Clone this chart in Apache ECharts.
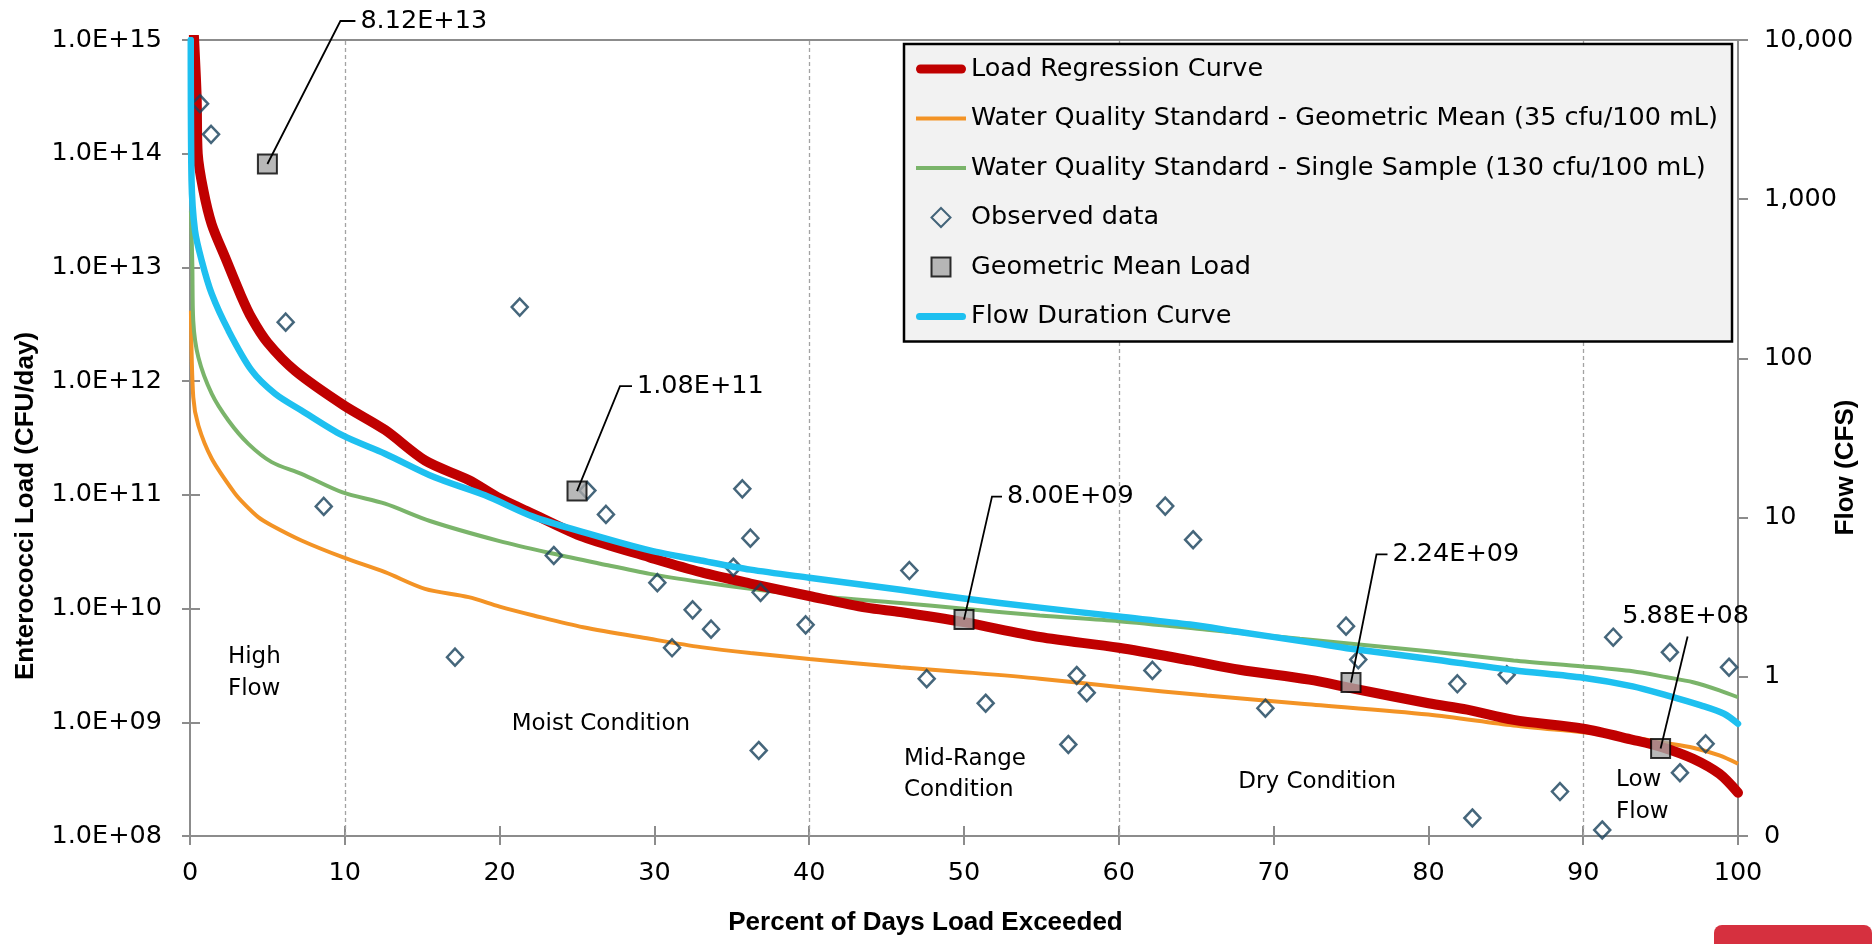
<!DOCTYPE html>
<html>
<head>
<meta charset="utf-8">
<script src="https://cdn.jsdelivr.net/npm/echarts@6/dist/echarts.min.js"></script>
<style>
html,body{margin:0;padding:0;background:#ffffff;}
#chart{width:1874px;height:944px;}
</style>
</head>
<body>
<div id="chart"></div>
<script>
// ---------------- DATA ----------------
// [percent of days exceeded, value]
const loadRegression = [
  [0.25,1.1e15],[0.43,3.16e14],[0.5,1.0e14],[0.86,4.79e13],[1.4,2.40e13],[2.3,1.20e13],
  [3.3,5.62e12],[4.0,3.55e12],[5.0,2.19e12],[6.8,1.23e12],[9.9,6.17e11],[12.6,3.72e11],
  [15.2,2.00e11],[18.0,1.35e11],[20.0,9.33e10],[22.2,6.76e10],[25.4,4.27e10],[29.7,2.82e10],
  [33.0,2.09e10],[36.2,1.66e10],[40.0,1.29e10],[43.7,1.02e10],[45.9,9.33e9],[50.0,7.59e9],
  [54.9,5.62e9],[60.0,4.52e9],[64.6,3.50e9],[67.8,2.90e9],[72.3,2.37e9],[75.0,2.00e9],
  [80.0,1.47e9],[82.5,1.29e9],[85.5,1.05e9],[90.0,8.77e8],[93.2,7.01e8],[95.1,6.04e8],
  [97.1,4.78e8],[98.8,3.52e8],[100,2.40e8]
];
const wqsGeoMean = [
  [0.06,4.17e12],[0.21,7.24e11],[0.54,4.07e11],[1.4,2.09e11],[2.9,1.03e11],[3.55,8.2e10],
  [4.41,6.37e10],[5.28,5.38e10],[7.2,3.97e10],[9.86,2.83e10],[12.6,2.09e10],[15.18,1.49e10],
  [18.0,1.26e10],[20.0,1.04e10],[22.2,8.69e9],[25.4,6.85e9],[29.7,5.42e9],[33.0,4.58e9],
  [36.2,4.06e9],[40.0,3.61e9],[45.9,3.05e9],[50.0,2.76e9],[54.9,2.42e9],[60.0,2.04e9],
  [65.7,1.72e9],[72.0,1.45e9],[80.0,1.17e9],[85.5,9.38e8],[90.0,8.18e8],[93.2,7.31e8],
  [95.4,6.55e8],[97.1,5.97e8],[98.8,5.11e8],[100,4.32e8]
];
const wqsSingleSample = [
  [0.06,3.16e13],[0.15,1.07e13],[0.21,3.39e12],[0.54,1.62e12],[1.4,7.76e11],[2.48,4.51e11],
  [3.77,2.81e11],[5.28,1.94e11],[7.2,1.53e11],[9.86,1.05e11],[12.6,8.36e10],[15.5,5.89e10],
  [20.0,3.92e10],[23.5,3.03e10],[26.5,2.48e10],[29.7,2.02e10],[33.0,1.71e10],[36.2,1.49e10],
  [40.0,1.30e10],[45.9,1.12e10],[50.0,9.95e9],[54.9,8.69e9],[60.0,7.74e9],[65.7,6.52e9],
  [71.7,5.42e9],[80.0,4.22e9],[85.5,3.50e9],[90.0,3.10e9],[93.2,2.81e9],[95.4,2.49e9],
  [97.1,2.25e9],[98.8,1.91e9],[100,1.66e9]
];
const observedData = [
  [0.65,2.75e14],[1.36,1.48e14],[6.18,3.30e12],[8.64,7.91e10],[17.12,3.74e9],[21.3,4.48e12],
  [23.5,2.93e10],[25.67,1.09e11],[26.87,6.73e10],[30.19,1.69e10],[31.14,4.52e9],[32.47,9.75e9],
  [33.66,6.59e9],[35.1,2.31e10],[35.68,1.13e11],[36.2,4.16e10],[36.74,5.65e8],[36.86,1.39e10],
  [39.77,7.19e9],[46.47,2.16e10],[47.59,2.42e9],[51.4,1.47e9],[56.74,6.38e8],[57.28,2.58e9],
  [57.93,1.82e9],[62.17,2.86e9],[63.0,7.96e10],[64.8,4.03e10],[69.47,1.33e9],[74.68,7.00e9],
  [75.47,3.56e9],[81.87,2.18e9],[82.84,1.44e8],[85.06,2.62e9],[88.5,2.46e8],[91.23,1.13e8],
  [91.94,5.60e9],[95.6,4.13e9],[96.25,3.60e8],[97.91,6.47e8],[99.42,3.05e9]
];
const gmPercent = [5, 25, 50, 75, 95];
const gmLoad = [8.12e13, 1.08e11, 8.00e9, 2.24e9, 5.88e8];
// flow duration curve (CFS)
const flowDuration = [
  [0.05,10000],[0.1,1312],[0.32,637],[0.75,413],[1.4,255],[2.48,150],[3.98,84.1],[5.5,60.0],
  [7.2,47.1],[9.86,32.8],[12.6,25.2],[15.8,17.9],[19.06,13.8],[22.2,10.1],[25.4,8.11],
  [29.7,6.22],[33.0,5.38],[36.2,4.71],[40.0,4.19],[45.9,3.52],[50.0,3.10],[54.9,2.72],
  [60.0,2.39],[64.6,2.13],[67.8,1.91],[72.3,1.65],[75.0,1.50],[80.0,1.30],[85.5,1.10],
  [90.0,0.986],[93.2,0.871],[95.4,0.764],[97.6,0.661],[99.1,0.586],[100,0.507]
];
const zoneBounds = [10, 40, 60, 90];
const zoneLabels = ['High\nFlow', 'Moist Condition', 'Mid-Range\nCondition', 'Dry Condition', 'Low\nFlow'];
const seriesNames = [
  'Load Regression Curve',
  'Water Quality Standard - Geometric Mean (35 cfu/100 mL)',
  'Water Quality Standard - Single Sample (130 cfu/100 mL)',
  'Observed data',
  'Geometric Mean Load',
  'Flow Duration Curve'
];
const xTitle = 'Percent of Days Load Exceeded';
const yTitle = 'Enterococci Load (CFU/day)';
const y2Title = 'Flow (CFS)';

// ---------------- LAYOUT / STYLE (not data) ----------------
// anchor (top-left) of zone labels in data coordinates
const zoneLabelAnchor = [[2.45, 5.16e9], [20.78, 1.34e9], [46.12, 6.61e8], [67.72, 4.11e8], [92.12, 4.26e8]];
// leader line offsets in px: [dx, dy, horizontal tail]
const leaderOffsets = [[73,-143,15],[43,-105,12],[28,-123,10],[25.5,-128,11],[27,-112,0]];
// legend icons
const legendIcons = [
  'path://M4.5,0H45.5A4.5,4.5,0,0,1,45.5,9H4.5A4.5,4.5,0,0,1,4.5,0Z',
  'path://M0,0H48V4H0Z',
  'path://M0,0H48V4H0Z',
  'path://M9,0L18,9L9,18L0,9Z',
  'path://M0,0H18V18H0Z',
  'path://M3.5,0H46.5A3.5,3.5,0,0,1,46.5,7H3.5A3.5,3.5,0,0,1,3.5,0Z'
];

const FONT = '"DejaVu Sans", sans-serif';
const TFONT = '"Liberation Sans", Arial, sans-serif';
const AXIS_GRAY = '#8c8c8c';
const SMOOTH = 0.3;

function fmtSci(v, d) {
  let e = Math.floor(Math.log10(v) + 1e-9);
  let m = v / Math.pow(10, e);
  if (Number(m.toFixed(d)) >= 10) { m /= 10; e += 1; }
  const sign = e < 0 ? '-' : '+';
  return m.toFixed(d) + 'E' + sign + String(Math.abs(e)).padStart(2, '0');
}

const chart = echarts.init(document.getElementById('chart'), null, {renderer: 'canvas'});

const commonX = {
  type: 'value', min: 0, max: 100, interval: 10,
  splitLine: {show: false}
};
const commonLeftY = {
  type: 'log', logBase: 10, min: 1e8, max: 1e15,
  splitLine: {show: false}, minorTick: {show: false}
};

const option = {
  backgroundColor: '#ffffff',
  animation: false,
  grid: {left: 190, right: 136, top: 40, bottom: 108, show: true, borderColor: AXIS_GRAY, borderWidth: 2, backgroundColor: 'transparent'},
  legend: {
    show: true, orient: 'vertical', left: 904, top: 44,
    data: seriesNames.map((n, i) => ({name: n, icon: legendIcons[i]})),
    itemWidth: 50, itemHeight: 19, itemGap: 19.5,
    symbolKeepAspect: true,
    padding: [10, 14, 10, 12],
    backgroundColor: '#f2f2f2', borderColor: '#000000', borderWidth: 2.5,
    selectedMode: false, z: 20,
    textStyle: {fontFamily: FONT, fontSize: 25.5, color: '#000000', lineHeight: 30}
  },
  xAxis: [
    Object.assign({}, commonX, {
      position: 'bottom',
      axisLine: {show: true, onZero: false, lineStyle: {color: AXIS_GRAY, width: 2}},
      axisTick: {show: true, inside: false, length: 9, lineStyle: {color: AXIS_GRAY, width: 2}},
      axisLabel: {show: true, margin: 24, fontFamily: FONT, fontSize: 25.5, color: '#000000'}
    }),
    Object.assign({}, commonX, {
      position: 'bottom',
      axisLine: {show: false},
      axisTick: {show: true, inside: true, length: 10, lineStyle: {color: AXIS_GRAY, width: 2}},
      axisLabel: {show: false}
    })
  ],
  yAxis: [
    Object.assign({}, commonLeftY, {
      position: 'left',
      axisLine: {show: true, onZero: false, lineStyle: {color: AXIS_GRAY, width: 2}},
      axisTick: {show: true, inside: false, length: 8, lineStyle: {color: AXIS_GRAY, width: 2}},
      axisLabel: {show: true, margin: 28, fontFamily: FONT, fontSize: 25.5, color: '#000000',
        formatter: v => fmtSci(v, 1)}
    }),
    {
      type: 'log', logBase: 10, min: 0.1, max: 10000, position: 'right',
      splitLine: {show: false},
      axisLine: {show: true, onZero: false, lineStyle: {color: AXIS_GRAY, width: 2}},
      axisTick: {show: true, inside: false, length: 10, lineStyle: {color: AXIS_GRAY, width: 2}},
      axisLabel: {show: true, margin: 26, fontFamily: FONT, fontSize: 25.5, color: '#000000',
        formatter: v => Math.round(v).toLocaleString('en-US')}
    },
    Object.assign({}, commonLeftY, {
      position: 'left',
      axisLine: {show: false},
      axisTick: {show: true, inside: true, length: 10, lineStyle: {color: AXIS_GRAY, width: 2}},
      axisLabel: {show: false}
    })
  ],
  graphic: [
    {type: 'text', x: 925.5, y: 923, silent: true,
      style: {text: xTitle, font: 'bold 26px ' + TFONT, fill: '#000000', align: 'center', verticalAlign: 'middle'}},
    {type: 'text', x: 26, y: 506, rotation: Math.PI / 2, silent: true,
      style: {text: yTitle, font: 'bold 26px ' + TFONT, fill: '#000000', align: 'center', verticalAlign: 'middle'}},
    {type: 'text', x: 1846, y: 467.5, rotation: Math.PI / 2, silent: true,
      style: {text: y2Title, font: 'bold 26px ' + TFONT, fill: '#000000', align: 'center', verticalAlign: 'middle'}},
    {type: 'rect', silent: true, shape: {x: 1714, y: 925, width: 158, height: 40, r: 8}, style: {fill: '#d6303f'}}
  ],
  series: [
    {
      name: seriesNames[1], type: 'line', xAxisIndex: 0, yAxisIndex: 0,
      data: wqsGeoMean, symbol: 'none', smooth: SMOOTH, z: 2,
      lineStyle: {color: '#f39325', width: 4}, itemStyle: {color: '#f39325'},
      markLine: {
        silent: true, symbol: ['none', 'none'], z: 1, animation: false,
        label: {show: false},
        lineStyle: {color: '#a3a3a3', type: [4, 3], width: 1.3},
        data: zoneBounds.map(x => ({xAxis: x}))
      }
    },
    {
      name: seriesNames[2], type: 'line', xAxisIndex: 0, yAxisIndex: 0,
      data: wqsSingleSample, symbol: 'none', smooth: SMOOTH, z: 2,
      lineStyle: {color: '#7ab46a', width: 4}, itemStyle: {color: '#7ab46a'}
    },
    {
      name: seriesNames[0], type: 'line', xAxisIndex: 0, yAxisIndex: 0,
      data: loadRegression, symbol: 'none', smooth: SMOOTH, z: 3,
      lineStyle: {color: '#c00000', width: 10, cap: 'round', join: 'round'}, itemStyle: {color: '#c00000'}
    },
    {
      name: seriesNames[3], type: 'scatter', xAxisIndex: 0, yAxisIndex: 0,
      data: observedData, symbol: 'diamond', symbolSize: [16, 17], z: 4,
      itemStyle: {color: 'rgba(255,255,255,0)', borderColor: '#17405a', borderWidth: 2.5}
    },
    {
      name: seriesNames[5], type: 'line', xAxisIndex: 0, yAxisIndex: 1,
      data: flowDuration, symbol: 'none', smooth: SMOOTH, z: 5,
      lineStyle: {color: '#1ec0f0', width: 6.5, cap: 'round', join: 'round'}, itemStyle: {color: '#1ec0f0'}
    },
    {
      name: seriesNames[4], type: 'scatter', xAxisIndex: 0, yAxisIndex: 0,
      data: gmPercent.map((x, i) => [x, gmLoad[i]]), symbol: 'rect', symbolSize: 19, z: 6,
      itemStyle: {color: '#a6a6a6', borderColor: '#000000', borderWidth: 2}
    },
    {
      name: 'gmLabels', type: 'custom', xAxisIndex: 0, yAxisIndex: 0, z: 7, silent: true, clip: false,
      data: gmPercent.map((x, i) => [x, gmLoad[i], i]),
      renderItem: function (params, api) {
        const i = api.value(2);
        const p = api.coord([api.value(0), api.value(1)]);
        const o = leaderOffsets[i];
        const top = [p[0] + o[0], p[1] + o[1]];
        const pts = [p, top];
        let tx, ty, align, va;
        if (o[2] > 0) {
          pts.push([top[0] + o[2], top[1]]);
          tx = top[0] + o[2] + 5; ty = top[1]; align = 'left'; va = 'middle';
        } else {
          tx = top[0] - 2; ty = top[1] - 20; align = 'center'; va = 'middle';
        }
        return {
          type: 'group',
          children: [
            {type: 'polyline', shape: {points: pts}, style: {stroke: '#000000', lineWidth: 1.8, fill: null}},
            {type: 'text', x: tx, y: ty, style: {text: fmtSci(api.value(1), 2), font: '25.5px ' + FONT, fill: '#000000', align: align, verticalAlign: va}}
          ]
        };
      }
    },
    {
      name: 'zoneLabels', type: 'custom', xAxisIndex: 0, yAxisIndex: 0, z: 7, silent: true, clip: false,
      data: zoneLabelAnchor.map((a, i) => [a[0], a[1], i]),
      renderItem: function (params, api) {
        const i = api.value(2);
        const p = api.coord([api.value(0), api.value(1)]);
        return {
          type: 'text', x: p[0], y: p[1],
          style: {text: zoneLabels[i], font: '23px ' + FONT, fill: '#000000', align: 'left', verticalAlign: 'top', lineHeight: 31.7}
        };
      }
    }
  ]
};
chart.setOption(option);
</script>
</body>
</html>
